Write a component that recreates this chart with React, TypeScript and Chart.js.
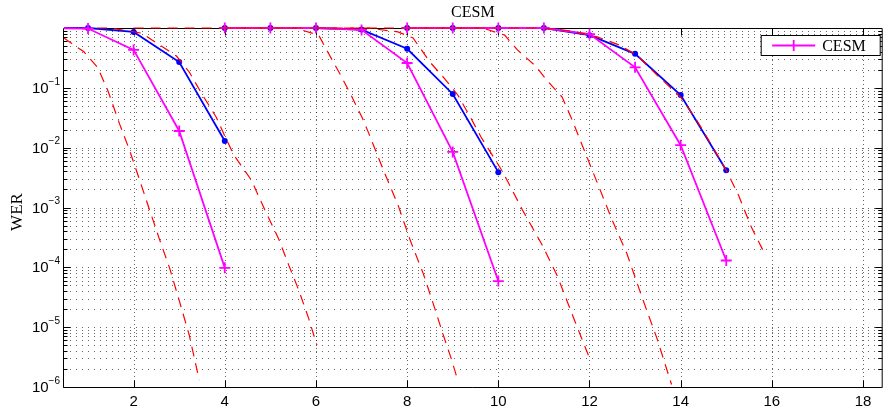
import React, { useEffect, useRef } from 'react';
import { Chart, registerables } from 'chart.js';

Chart.register(...registerables);

// ---- axis ranges & ticks ----
const X_MIN = 0.473;
const X_MAX = 18.41;
const Y_MIN = 1e-6;
const Y_MAX = 1;
const X_TICKS = [2, 4, 6, 8, 10, 12, 14, 16, 18];
const Y_TICK_VALUES = [1e-1, 1e-2, 1e-3, 1e-4, 1e-5, 1e-6];
const Y_TICK_EXPONENTS = ['\u22121', '\u22122', '\u22123', '\u22124', '\u22125', '\u22126'];
const Y_DECADES = [1e-6, 1e-5, 1e-4, 1e-3, 1e-2, 1e-1];
const Y_MINOR_MULTIPLIERS = [2, 3, 4, 5, 6, 7, 8, 9];

// ---- simulated series (blue: filled dots, magenta: "CESM" crosses) ----
const BLUE_A_X = [0, 1, 2, 3, 4];
const BLUE_A_Y = [1, 1, 0.86, 0.27, 0.0129];
const MAG_A_X = [0, 1, 2, 3, 4];
const MAG_A_Y = [1, 0.98, 0.43, 0.019, 9.8e-5];

const BLUE_B_X = [4, 5, 6, 7, 8, 9, 10];
const BLUE_B_Y = [1, 1, 1, 0.94, 0.45, 0.079, 0.0039];
const MAG_B_X = [4, 5, 6, 7, 8, 9, 10];
const MAG_B_Y = [1, 1, 1, 0.93, 0.26, 0.0085, 5.9e-5];

const BLUE_C_X = [8, 9, 10, 11, 12, 13, 14, 15];
const BLUE_C_Y = [1, 1, 1, 1, 0.76, 0.37, 0.076, 0.0042];
const MAG_C_X = [8, 9, 10, 11, 12, 13, 14, 15];
const MAG_C_Y = [1, 1, 1, 1, 0.79, 0.22, 0.011, 1.3e-4];

// ---- theoretical curves (red dashed) ----
const RED1_X = [0.47, 0.91, 1.21, 1.43, 1.7, 1.91, 2.13, 2.35, 2.57, 2.79, 3.0, 3.22, 3.44];
const RED1_Y = [0.68, 0.4, 0.22, 0.092, 0.024, 0.0091, 0.0029, 9.1e-4, 2.9e-4, 9.7e-5, 2.8e-5, 7.4e-6, 1.3e-6];

const RED2_X = [1.2, 1.48, 2.18, 2.57, 2.94, 3.22, 3.51, 3.81, 4.01, 4.2, 4.58, 4.88, 5.19, 5.4, 5.62, 5.84, 6.02];
const RED2_Y = [1, 1, 0.82, 0.52, 0.34, 0.184, 0.076, 0.0326, 0.0151, 0.0075, 0.0029, 9.1e-4, 2.9e-4, 1.1e-4, 4.2e-5, 1.4e-5, 5e-6];

const RED3_X = [2.0, 5.54, 6.06, 6.28, 6.54, 6.78, 7.02, 7.15, 7.48, 7.8, 8.07, 8.35, 8.57, 8.79, 8.96, 9.11];
const RED3_Y = [1, 1, 0.76, 0.37, 0.164, 0.073, 0.031, 0.018, 0.0042, 0.0011, 2.8e-4, 8.0e-5, 2.5e-5, 7.5e-6, 3.1e-6, 1.3e-6];

const RED4_X = [4.0, 7.15, 7.8, 8.13, 8.5, 8.83, 9.11, 9.4, 9.62, 10.1, 10.53, 10.97, 11.3, 11.69, 12.02];
const RED4_Y = [1, 1, 0.86, 0.68, 0.27, 0.14, 0.076, 0.031, 0.0151, 0.0039, 9.1e-4, 2.3e-4, 7e-5, 1.2e-5, 2.8e-6];

const RED5_X = [6.0, 9.66, 10.14, 10.42, 10.82, 11.08, 11.4, 11.62, 11.84, 12.17, 12.5, 12.82, 13.15, 13.48, 13.8];
const RED5_Y = [1, 1, 0.76, 0.43, 0.23, 0.13, 0.07, 0.029, 0.011, 0.0026, 6.1e-4, 1.7e-4, 3.2e-5, 6.5e-6, 1.1e-6];

const RED6_X = [8.0, 10.99, 11.62, 12.17, 12.65, 13.04, 13.48, 14.0, 14.35, 14.68, 15.0, 15.27, 15.55, 15.81];
const RED6_Y = [1, 1, 0.89, 0.71, 0.52, 0.35, 0.164, 0.07, 0.029, 0.011, 0.0042, 0.0016, 4.7e-4, 1.9e-4];

// ---- text ----
const TITLE = 'CESM';
const Y_LABEL = 'WER';
const LEGEND_LABEL = 'CESM';

const BLUE = 'rgb(0,0,255)';
const MAGENTA = 'rgb(255,0,255)';
const RED = 'rgb(255,0,0)';
const SANS = '"Liberation Sans", Arial, sans-serif';
const SERIF = '"Liberation Serif", "Times New Roman", serif';

const pts = (xs: number[], ys: number[]) => xs.map((x, i) => ({ x, y: ys[i] }));

const CLIP = { left: 0, top: 8, right: 0, bottom: 0 };

const redSet = (xs: number[], ys: number[]) => ({
  label: 'theory',
  data: pts(xs, ys),
  borderColor: RED,
  borderWidth: 1.2,
  borderDash: [10, 7],
  pointRadius: 0,
  fill: false,
  clip: CLIP,
});
const blueSet = (xs: number[], ys: number[]) => ({
  label: 'sim',
  data: pts(xs, ys),
  borderColor: BLUE,
  backgroundColor: BLUE,
  borderWidth: 1.8,
  pointRadius: 3,
  pointStyle: 'circle',
  pointBackgroundColor: BLUE,
  pointBorderColor: BLUE,
  pointBorderWidth: 0,
  fill: false,
  clip: CLIP,
});
const magSet = (xs: number[], ys: number[]) => ({
  label: LEGEND_LABEL,
  data: pts(xs, ys),
  borderColor: MAGENTA,
  backgroundColor: MAGENTA,
  borderWidth: 1.8,
  pointRadius: 5.5,
  pointStyle: 'cross',
  pointBorderColor: MAGENTA,
  pointBorderWidth: 1.8,
  fill: false,
  clip: CLIP,
});

const axesPlugin = {
  id: 'matlabAxes',
  beforeDatasetsDraw(chart: any) {
    const { ctx, chartArea: a, scales } = chart;
    const xs = scales.x;
    const ys = scales.y;
    ctx.save();
    ctx.lineWidth = 1;
    ctx.strokeStyle = 'rgba(0,0,0,0.6)';
    // vertical dotted grid
    ctx.setLineDash([1, 3]);
    for (const v of X_TICKS) {
      const px = Math.round(xs.getPixelForValue(v)) + 0.5;
      ctx.beginPath();
      ctx.moveTo(px, a.top);
      ctx.lineTo(px, a.bottom);
      ctx.stroke();
    }
    // horizontal dotted grid (major + minor)
    ctx.setLineDash([1, 5]);
    const yGrid: number[] = [];
    for (const d of Y_DECADES) {
      yGrid.push(d);
      for (const m of Y_MINOR_MULTIPLIERS) yGrid.push(d * m);
    }
    for (const v of yGrid) {
      const py = Math.round(ys.getPixelForValue(v)) + 0.5;
      if (py <= a.top + 1 || py >= a.bottom - 1) continue;
      ctx.beginPath();
      ctx.moveTo(a.left, py);
      ctx.lineTo(a.right, py);
      ctx.stroke();
    }
    ctx.setLineDash([]);
    // frame
    ctx.strokeStyle = '#000';
    ctx.lineWidth = 1;
    const L = a.left - 0.5, R = a.right + 0.5, T = a.top + 0.5, B = a.bottom + 0.5;
    ctx.beginPath();
    ctx.moveTo(L, T); ctx.lineTo(R, T); ctx.lineTo(R, B); ctx.lineTo(L, B); ctx.closePath();
    ctx.stroke();
    // x ticks (bottom & top, inward)
    ctx.beginPath();
    for (const v of X_TICKS) {
      const px = Math.round(xs.getPixelForValue(v)) + 0.5;
      ctx.moveTo(px, B); ctx.lineTo(px, B - 7);
      ctx.moveTo(px, T); ctx.lineTo(px, T + 7);
    }
    // y ticks (left & right, inward)
    for (const v of yGrid) {
      const py = Math.round(ys.getPixelForValue(v)) + 0.5;
      const len = Y_DECADES.includes(v) ? 7 : 4;
      ctx.moveTo(L, py); ctx.lineTo(L + len, py);
      ctx.moveTo(R, py); ctx.lineTo(R - len, py);
    }
    ctx.stroke();
    ctx.restore();
  },
  afterDatasetsDraw(chart: any) {
    const { ctx, chartArea: a, scales } = chart;
    const xs = scales.x;
    const ys = scales.y;
    ctx.save();
    ctx.fillStyle = '#000';
    // x tick labels
    ctx.font = `15px ${SANS}`;
    ctx.textAlign = 'center';
    ctx.textBaseline = 'middle';
    for (const v of X_TICKS) {
      ctx.fillText(String(v), xs.getPixelForValue(v), a.bottom + 15);
    }
    // y tick labels 10^k
    Y_TICK_VALUES.forEach((v, i) => {
      const py = ys.getPixelForValue(v);
      const exp = Y_TICK_EXPONENTS[i];
      ctx.font = `10px ${SANS}`;
      const ew = ctx.measureText(exp).width;
      const ex = a.left - 4 - ew;
      ctx.textAlign = 'left';
      ctx.textBaseline = 'middle';
      ctx.fillText(exp, ex, py - 6);
      ctx.font = `15px ${SANS}`;
      ctx.textAlign = 'right';
      ctx.fillText('10', ex, py + 1);
    });
    // title
    ctx.font = `16px ${SERIF}`;
    ctx.textAlign = 'center';
    ctx.textBaseline = 'middle';
    ctx.fillText(TITLE, (a.left + a.right) / 2, 13);
    // y label
    ctx.save();
    ctx.translate(18, 212);
    ctx.rotate(-Math.PI / 2);
    ctx.font = `17px ${SERIF}`;
    ctx.textAlign = 'center';
    ctx.textBaseline = 'middle';
    ctx.fillText(Y_LABEL, 0, 0);
    ctx.restore();
    // legend
    const bx = a.right - 120.5, by = a.top + 7.5, bw = 119, bh = 20;
    ctx.fillStyle = '#fff';
    ctx.fillRect(bx, by, bw, bh);
    ctx.strokeStyle = '#000';
    ctx.lineWidth = 1;
    ctx.strokeRect(bx, by, bw, bh);
    const ly = by + bh / 2;
    ctx.strokeStyle = MAGENTA;
    ctx.lineWidth = 1.8;
    ctx.beginPath();
    ctx.moveTo(bx + 11, ly); ctx.lineTo(bx + 54, ly);
    const cx = bx + 32.5;
    ctx.moveTo(cx - 5.5, ly); ctx.lineTo(cx + 5.5, ly);
    ctx.moveTo(cx, ly - 5.5); ctx.lineTo(cx, ly + 5.5);
    ctx.stroke();
    ctx.fillStyle = '#000';
    ctx.font = `16px ${SERIF}`;
    ctx.textAlign = 'left';
    ctx.textBaseline = 'middle';
    ctx.fillText(LEGEND_LABEL, bx + 61, ly + 1);
    ctx.restore();
  },
};

export default function App() {
  const canvasRef = useRef<HTMLCanvasElement | null>(null);

  useEffect(() => {
    document.body.style.margin = '0';
    const canvas = canvasRef.current;
    if (!canvas) return;
    const chart = new Chart(canvas, {
      type: 'line',
      data: {
        datasets: [
          redSet(RED1_X, RED1_Y),
          redSet(RED2_X, RED2_Y),
          redSet(RED3_X, RED3_Y),
          redSet(RED4_X, RED4_Y),
          redSet(RED5_X, RED5_Y),
          redSet(RED6_X, RED6_Y),
          magSet(MAG_A_X, MAG_A_Y),
          magSet(MAG_B_X, MAG_B_Y),
          magSet(MAG_C_X, MAG_C_Y),
          blueSet(BLUE_A_X, BLUE_A_Y),
          blueSet(BLUE_B_X, BLUE_B_Y),
          blueSet(BLUE_C_X, BLUE_C_Y),
        ] as any,
      },
      options: {
        animation: false,
        responsive: false,
        maintainAspectRatio: false,
        devicePixelRatio: 1,
        layout: { padding: { left: 64, right: 3, top: 28, bottom: 24 } },
        plugins: {
          legend: { display: false },
          title: { display: false },
          tooltip: { enabled: false },
        },
        elements: { line: { tension: 0 } },
        scales: {
          x: { type: 'linear', min: X_MIN, max: X_MAX, display: false },
          y: { type: 'logarithmic', min: Y_MIN, max: Y_MAX, display: false },
        },
      } as any,
      plugins: [axesPlugin],
    });
    return () => chart.destroy();
  }, []);

  return (
    <div style={{ position: 'absolute', left: 0, top: 0, width: 889, height: 411, background: '#fff' }}>
      <canvas ref={canvasRef} width={889} height={411} style={{ display: 'block' }} />
    </div>
  );
}
